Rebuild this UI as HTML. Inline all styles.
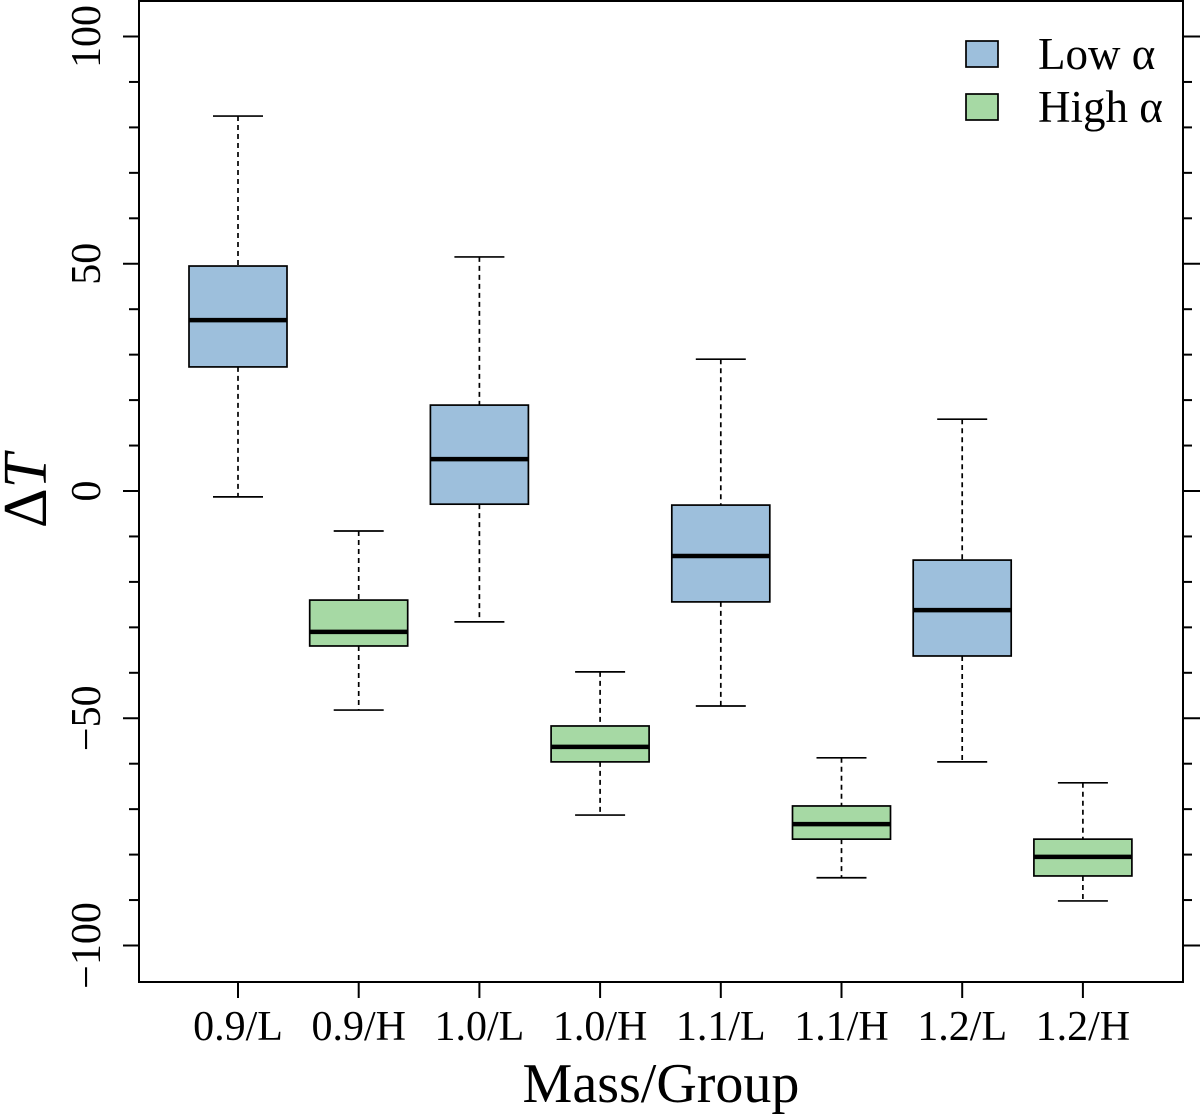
<!DOCTYPE html>
<html><head><meta charset="utf-8"><style>
body{margin:0;background:#fff}
svg{display:block;font-family:"Liberation Serif",serif}
</style></head><body>
<svg id="chart" width="1200" height="1114" viewBox="0 0 1200 1114" xmlns="http://www.w3.org/2000/svg"></svg>
<script>
const categories=["0.9/L","0.9/H","1.0/L","1.0/H","1.1/L","1.1/H","1.2/L","1.2/H"];
const groups=["L","H","L","H","L","H","L","H"];
const whiskerHigh=[82.5,-8.8,51.5,-39.8,29,-58.7,15.8,-64.2];
const q3=[49.5,-24,18.9,-51.7,-3.1,-69.3,-15.2,-76.6];
const medians=[37.6,-31,7.0,-56.3,-14.3,-73.3,-26.2,-80.5];
const q1=[27.3,-34.1,-2.9,-59.6,-24.4,-76.6,-36.3,-84.7];
const whiskerLow=[-1.3,-48.2,-28.8,-71.3,-47.3,-85.1,-59.6,-90.2];
const yTickLabels=[-100,-50,0,50,100];
const yMinorTicks=[-100,-90,-80,-70,-60,-50,-40,-30,-20,-10,0,10,20,30,40,50,60,70,80,90,100];

const svg=document.getElementById('chart');
const NS='http://www.w3.org/2000/svg';
const L=139,R=1183,T=1,B=982;
const y=v=>491-v*4.545;
const x=i=>238+i*120.7;
const colors={L:"#9dbfdc",H:"#a6d9a4"};
function mk(tag,attrs,parent){const e=document.createElementNS(NS,tag);for(const k in attrs)e.setAttribute(k,attrs[k]);(parent||svg).appendChild(e);return e;}

const frame=mk('rect',{x:L,y:T,width:R-L,height:B-T,fill:'none',stroke:'#000','stroke-width':2});



yMinorTicks.forEach(v=>{
  const major=v%50===0;
  const t1=mk('line',{x1:L,x2:L-(major?16:10),y1:y(v),y2:y(v),stroke:'#000','stroke-width':2});
  
  
  const t2=mk('line',{x1:R,x2:R+(major?17:9),y1:y(v),y2:y(v),stroke:'#000','stroke-width':2});
  
  
});
yTickLabels.forEach(v=>{
  const t=mk('text',{x:0,y:0,transform:`translate(100,${y(v)}) rotate(-90)`,'text-anchor':'middle','font-size':42});
  t.textContent=v<0?'\u2212'+Math.abs(v):String(v);
  
  
});

categories.forEach((c,i)=>{
  const cx=x(i);
  const g=mk('g',{});
  
  
  mk('line',{x1:cx,x2:cx,y1:y(whiskerHigh[i]),y2:y(q3[i]),stroke:'#000','stroke-width':1.7,'stroke-dasharray':'5,4'},g);
  mk('line',{x1:cx,x2:cx,y1:y(q1[i]),y2:y(whiskerLow[i]),stroke:'#000','stroke-width':1.7,'stroke-dasharray':'5,4'},g);
  mk('line',{x1:cx-25,x2:cx+25,y1:y(whiskerHigh[i]),y2:y(whiskerHigh[i]),stroke:'#000','stroke-width':1.7},g);
  mk('line',{x1:cx-25,x2:cx+25,y1:y(whiskerLow[i]),y2:y(whiskerLow[i]),stroke:'#000','stroke-width':1.7},g);
  mk('rect',{x:cx-49,y:y(q3[i]),width:98,height:y(q1[i])-y(q3[i]),fill:colors[groups[i]],stroke:'#000','stroke-width':1.7},g);
  mk('line',{x1:cx-49,x2:cx+49,y1:y(medians[i]),y2:y(medians[i]),stroke:'#000','stroke-width':4.5},g);
  const tk=mk('line',{x1:cx,x2:cx,y1:B,y2:B+16,stroke:'#000','stroke-width':2});
  
  
  const lb=mk('text',{x:cx,y:1040,'text-anchor':'middle','font-size':42});
  lb.textContent=c;
  
  
});

const xt=mk('text',{x:661,y:1102,'text-anchor':'middle','font-size':56});
xt.textContent='Mass/Group';


const yt=mk('text',{x:0,y:0,transform:'translate(46,491) rotate(-90)','text-anchor':'middle','font-size':62});
yt.innerHTML='Δ<tspan font-style="italic">T</tspan>';



[["Low α","L",41],["High α","H",94]].forEach(([t,k,yy])=>{
  const g=mk('g',{});
  
  
  mk('rect',{x:966,y:yy,width:32,height:26,fill:colors[k],stroke:'#000','stroke-width':1.7},g);
  const tx=mk('text',{x:1038,y:yy+28,'font-size':45},g);
  tx.textContent=t;
});
</script>
</body></html>
